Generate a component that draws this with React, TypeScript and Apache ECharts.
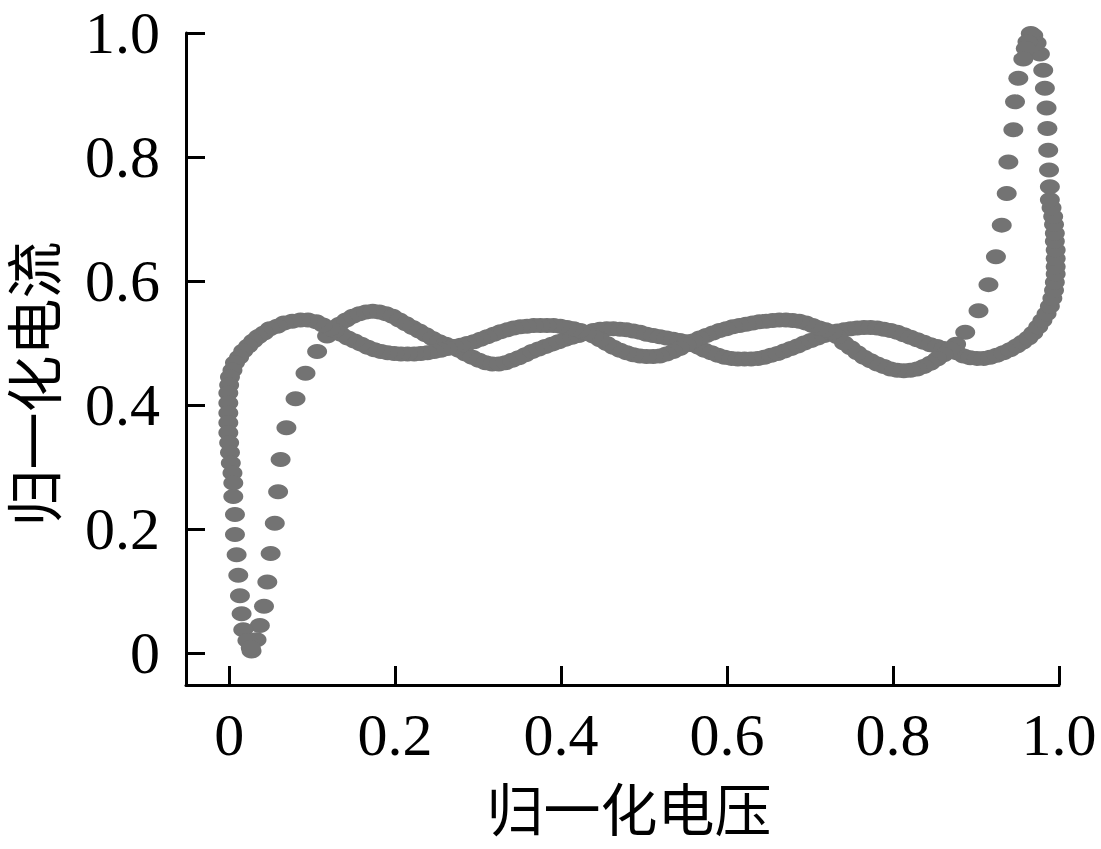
import React, { useEffect, useRef } from "react";
import * as echarts from "echarts";

// Loop branch 1: sparse rise from the bottom of the loop
const riseSparse: number[][] = [
  [0.027, 0.003], [0.033, 0.021], [0.037, 0.044], [0.042, 0.075], [0.046, 0.114],
  [0.05, 0.16], [0.055, 0.209], [0.059, 0.26], [0.062, 0.312], [0.069, 0.363],
  [0.08, 0.41], [0.092, 0.451], [0.106, 0.486], [0.118, 0.511],
];

// Loop branch 1: middle plateau going right
const forwardMiddle: number[][] = [
  [0.125, 0.522], [0.133, 0.53], [0.141, 0.537], [0.149, 0.543], [0.157, 0.547],
  [0.165, 0.55], [0.173, 0.551], [0.181, 0.55], [0.189, 0.547], [0.197, 0.543],
  [0.205, 0.537], [0.213, 0.531], [0.221, 0.525], [0.229, 0.519], [0.237, 0.513],
  [0.245, 0.507], [0.253, 0.502], [0.261, 0.498], [0.269, 0.494],
  [0.277, 0.488], [0.285, 0.482], [0.293, 0.477], [0.301, 0.472], [0.309, 0.468],
  [0.317, 0.466], [0.325, 0.466], [0.333, 0.468], [0.341, 0.472], [0.349, 0.476],
  [0.357, 0.481], [0.365, 0.486], [0.373, 0.49], [0.381, 0.494], [0.389, 0.498],
  [0.397, 0.502], [0.405, 0.506], [0.413, 0.509], [0.421, 0.512], [0.429, 0.515],
  [0.439, 0.52], [0.447, 0.522], [0.455, 0.523], [0.463, 0.523], [0.471, 0.522],
  [0.479, 0.521], [0.487, 0.519], [0.495, 0.517], [0.503, 0.514], [0.511, 0.512],
  [0.519, 0.51], [0.527, 0.508], [0.535, 0.506], [0.543, 0.504], [0.551, 0.502],
  [0.559, 0.497], [0.566, 0.493], [0.573, 0.488], [0.581, 0.484], [0.589, 0.48],
  [0.597, 0.477], [0.605, 0.475], [0.613, 0.474], [0.621, 0.474], [0.629, 0.474],
  [0.637, 0.475], [0.645, 0.477], [0.653, 0.48], [0.661, 0.483], [0.669, 0.487],
  [0.677, 0.491], [0.685, 0.495], [0.693, 0.5], [0.701, 0.504], [0.709, 0.508],
  [0.717, 0.512], [0.725, 0.516],
  [0.733, 0.519], [0.741, 0.521], [0.749, 0.523], [0.757, 0.524], [0.765, 0.525],
  [0.773, 0.525], [0.781, 0.524], [0.789, 0.522], [0.797, 0.52], [0.805, 0.517],
  [0.813, 0.513], [0.821, 0.509], [0.829, 0.505], [0.837, 0.501], [0.845, 0.497],
  [0.853, 0.494], [0.861, 0.491], [0.869, 0.488],
];

// Loop branch 1: dense rise on the right up to the peak
const rightRise: number[][] = [
  [0.877, 0.484], [0.885, 0.479], [0.893, 0.476], [0.901, 0.475], [0.909, 0.475],
  [0.917, 0.477], [0.925, 0.48], [0.933, 0.484], [0.941, 0.489], [0.949, 0.495],
  [0.956, 0.501], [0.963, 0.508], [0.969, 0.516], [0.975, 0.526], [0.98, 0.536],
  [0.985, 0.547], [0.989, 0.559], [0.992, 0.572], [0.994, 0.585], [0.995, 0.598],
  [0.996, 0.611], [0.996, 0.623], [0.996, 0.636], [0.996, 0.65], [0.995, 0.664],
  [0.995, 0.677], [0.994, 0.691], [0.993, 0.704], [0.991, 0.718], [0.989, 0.731],
  [0.989, 0.752], [0.988, 0.779], [0.987, 0.811], [0.986, 0.846], [0.985, 0.879],
  [0.983, 0.911], [0.981, 0.94], [0.977, 0.966], [0.973, 0.984], [0.969, 0.996],
];

// Loop branch 2: sparse fall from the peak
const peakFall: number[][] = [
  [0.966, 0.999], [0.962, 0.986], [0.96, 0.975], [0.957, 0.958], [0.951, 0.927],
  [0.947, 0.889], [0.945, 0.844], [0.939, 0.792], [0.937, 0.741], [0.931, 0.69],
  [0.924, 0.639], [0.915, 0.594], [0.903, 0.552], [0.887, 0.517], [0.876, 0.498],
];

// Loop branch 2: middle plateau going left
const returnMiddle: number[][] = [
  [0.869, 0.49], [0.861, 0.481], [0.853, 0.474], [0.845, 0.467], [0.837, 0.462],
  [0.829, 0.458], [0.821, 0.456], [0.813, 0.455], [0.805, 0.456], [0.797, 0.458],
  [0.789, 0.462], [0.781, 0.466], [0.773, 0.471], [0.765, 0.477], [0.757, 0.484],
  [0.749, 0.492], [0.741, 0.5], [0.733, 0.51], [0.727, 0.517],
  [0.719, 0.521], [0.711, 0.524], [0.703, 0.528], [0.695, 0.532], [0.687, 0.535],
  [0.679, 0.536], [0.671, 0.537], [0.663, 0.537], [0.655, 0.536], [0.647, 0.535],
  [0.639, 0.534], [0.631, 0.532], [0.623, 0.53], [0.615, 0.528], [0.607, 0.526],
  [0.599, 0.523], [0.591, 0.52], [0.583, 0.516], [0.575, 0.512], [0.567, 0.508],
  [0.559, 0.503],
  [0.551, 0.497], [0.543, 0.491], [0.535, 0.486], [0.527, 0.482], [0.519, 0.479],
  [0.511, 0.478], [0.503, 0.478], [0.495, 0.479], [0.487, 0.481], [0.479, 0.484],
  [0.471, 0.488], [0.463, 0.493], [0.455, 0.499], [0.447, 0.505], [0.439, 0.511],
  [0.431, 0.516],
  [0.423, 0.52], [0.415, 0.523], [0.407, 0.525], [0.399, 0.527], [0.391, 0.528],
  [0.383, 0.528], [0.375, 0.528], [0.367, 0.528], [0.359, 0.527], [0.351, 0.526],
  [0.343, 0.524], [0.335, 0.521], [0.327, 0.518], [0.319, 0.514], [0.311, 0.51],
  [0.303, 0.506], [0.295, 0.502], [0.287, 0.499], [0.279, 0.496], [0.271, 0.494],
  [0.263, 0.491], [0.255, 0.488], [0.247, 0.486], [0.239, 0.484], [0.231, 0.483],
  [0.223, 0.482], [0.215, 0.482], [0.207, 0.482], [0.199, 0.483], [0.191, 0.484],
  [0.183, 0.486], [0.175, 0.489], [0.167, 0.493], [0.159, 0.498], [0.151, 0.503],
  [0.143, 0.508], [0.135, 0.514], [0.127, 0.52],
];

// Loop branch 2: dense fall on the left back to the bottom
const leftFall: number[][] = [
  [0.122, 0.523], [0.113, 0.529], [0.105, 0.534], [0.095, 0.537], [0.086, 0.537],
  [0.076, 0.535], [0.066, 0.532], [0.058, 0.527], [0.049, 0.523], [0.042, 0.516],
  [0.035, 0.51], [0.029, 0.503], [0.023, 0.495], [0.017, 0.487], [0.012, 0.477],
  [0.007, 0.468], [0.004, 0.456], [0.001, 0.445], [0.0, 0.432], [-0.001, 0.419],
  [-0.001, 0.403], [-0.001, 0.387], [-0.001, 0.371], [-0.001, 0.355], [0.0, 0.339],
  [0.001, 0.323], [0.002, 0.306], [0.004, 0.29], [0.005, 0.274], [0.005, 0.252],
  [0.007, 0.223], [0.007, 0.191], [0.009, 0.158], [0.011, 0.125], [0.013, 0.092],
  [0.015, 0.063], [0.017, 0.037], [0.022, 0.02], [0.026, 0.008],
];

const tickValues = [0, 0.2, 0.4, 0.6, 0.8, 1.0];
const xName = "归一化电压";
const yName = "归一化电流";

const fmt = (v: number) => (v === 0 ? "0" : v.toFixed(1));

export default function App() {
  const ref = useRef<HTMLDivElement>(null);
  useEffect(() => {
    if (!ref.current) return;
    const chart = echarts.init(ref.current, undefined, { renderer: "svg" });
    const points = [
      ...riseSparse,
      ...forwardMiddle,
      ...rightRise,
      ...peakFall,
      ...returnMiddle,
      ...leftFall,
    ];
    const axisCommon = {
      type: "value" as const,
      min: -0.052,
      max: 1.0,
      axisLine: { show: true, onZero: false, lineStyle: { color: "#000", width: 3 } },
      axisTick: {
        show: true,
        inside: true,
        length: 19,
        customValues: tickValues,
        lineStyle: { color: "#000", width: 3 },
      },
      splitLine: { show: false },
      axisLabel: {
        customValues: tickValues,
        formatter: fmt,
        color: "#000",
        fontSize: 60,
        fontFamily: "Liberation Serif",
      },
    };
    const nameFont = {
      fill: "#000",
      fontSize: 57,
      lineHeight: 57,
      fontFamily: "'Liberation Serif', 'Noto Sans CJK SC'",
      align: "center",
      verticalAlign: "middle",
    };
    chart.setOption({
      animation: false,
      backgroundColor: "#fff",
      grid: { left: 186, top: 33, width: 873, height: 652, containLabel: false },
      xAxis: {
        ...axisCommon,
        axisLabel: { ...axisCommon.axisLabel, margin: 20 },
      },
      yAxis: {
        ...axisCommon,
        axisLabel: { ...axisCommon.axisLabel, margin: 26 },
      },
      graphic: [
        {
          type: "text",
          x: 629,
          y: 811,
          silent: true,
          style: { ...nameFont, text: xName },
        },
        {
          type: "text",
          x: 36,
          y: 384,
          rotation: Math.PI / 2,
          silent: true,
          style: { ...nameFont, text: yName },
        },
      ],
      series: [
        {
          type: "scatter",
          data: points,
          symbol: "circle",
          symbolSize: [20, 15],
          itemStyle: { color: "#737373", opacity: 1 },
          silent: true,
        },
      ],
    });
    return () => chart.dispose();
  }, []);
  return (
    <div
      ref={ref}
      style={{ position: "fixed", left: 0, top: 0, width: 1101, height: 849, background: "#fff" }}
    />
  );
}
